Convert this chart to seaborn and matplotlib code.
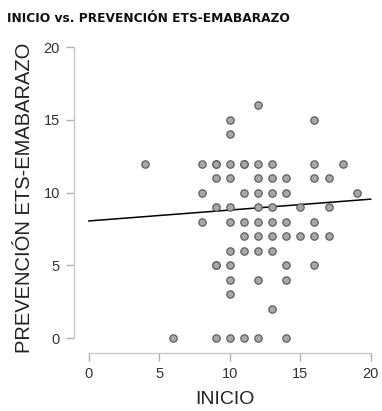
import matplotlib
matplotlib.use("Agg")
import matplotlib.pyplot as plt
import seaborn as sns
import pandas as pd
import numpy as np

inicio = [12, 10, 16, 10,
          4, 8, 9, 9, 10, 11, 11, 12, 13, 16, 18,
          9, 10, 12, 13, 14, 16, 17,
          8, 11, 12, 13, 14, 19,
          9, 10, 12, 13, 15, 17,
          8, 10, 11, 12, 13, 14, 16,
          11, 12, 13, 14, 15, 16, 17,
          10, 11, 12, 13,
          9, 9, 10, 14, 16,
          10, 12, 14,
          10,
          13,
          6, 9, 10, 11, 12, 14]
prevencion = [16, 15, 15, 14,
              12, 12, 12, 12, 12, 12, 12, 12, 12, 12, 12,
              11, 11, 11, 11, 11, 11, 11,
              10, 10, 10, 10, 10, 10,
              9, 9, 9, 9, 9, 9,
              8, 8, 8, 8, 8, 8, 8,
              7, 7, 7, 7, 7, 7, 7,
              6, 6, 6, 6,
              5, 5, 5, 5, 5,
              4, 4, 4,
              3,
              2,
              0, 0, 0, 0, 0, 0]
line_intercept = 8.05
line_slope = 0.075
x_ticks = [0, 5, 10, 15, 20]
y_ticks = [0, 5, 10, 15, 20]

df = pd.DataFrame({"INICIO": inicio, "PREV": prevencion})

sns.set_theme(style="ticks")
plt.rcParams['font.family'] = ['Liberation Sans', 'DejaVu Sans']

fig = plt.figure(figsize=(3.82, 4.11), dpi=100)
ax = fig.add_axes([0.195, 0.142, 0.787, 0.754])

line_x = np.array([x_ticks[0], x_ticks[-1]])
ax.plot(line_x, line_intercept + line_slope * line_x, color="black", lw=1.1, zorder=2)

sns.scatterplot(data=df, x="INICIO", y="PREV", ax=ax, s=28, color="#a8a8a8",
                edgecolor="#5e5e5e", linewidth=0.9, zorder=3)

ax.set_xlim(-1.0, 20.3)
ax.set_ylim(-1.0, 20.3)
ax.set_xticks(x_ticks)
ax.set_yticks(y_ticks)
ax.spines['top'].set_visible(False)
ax.spines['right'].set_visible(False)
ax.spines['left'].set_bounds(0, 20)
ax.spines['bottom'].set_bounds(0, 20)
for s in ['left', 'bottom']:
    ax.spines[s].set_color("#c8c8c8")
    ax.spines[s].set_linewidth(1.0)
ax.tick_params(axis='both', direction='out', length=5.5, width=1.0, color="#b0b0b0",
               labelsize=10.5, labelcolor="#333333", pad=5)
ax.set_xlabel("INICIO", fontsize=14, color="#222222", labelpad=7)
ax.set_ylabel("PREVENCIÓN ETS-EMABARAZO", fontsize=14.5, color="#222222", labelpad=7)

fig.text(0.018, 0.955, "INICIO vs. PREVENCIÓN ETS-EMABARAZO", fontsize=8.8,
         fontweight="bold", color="#111111", ha="left", va="center",
         family=['DejaVu Sans'])

fig.savefig("out.png", dpi=100)
